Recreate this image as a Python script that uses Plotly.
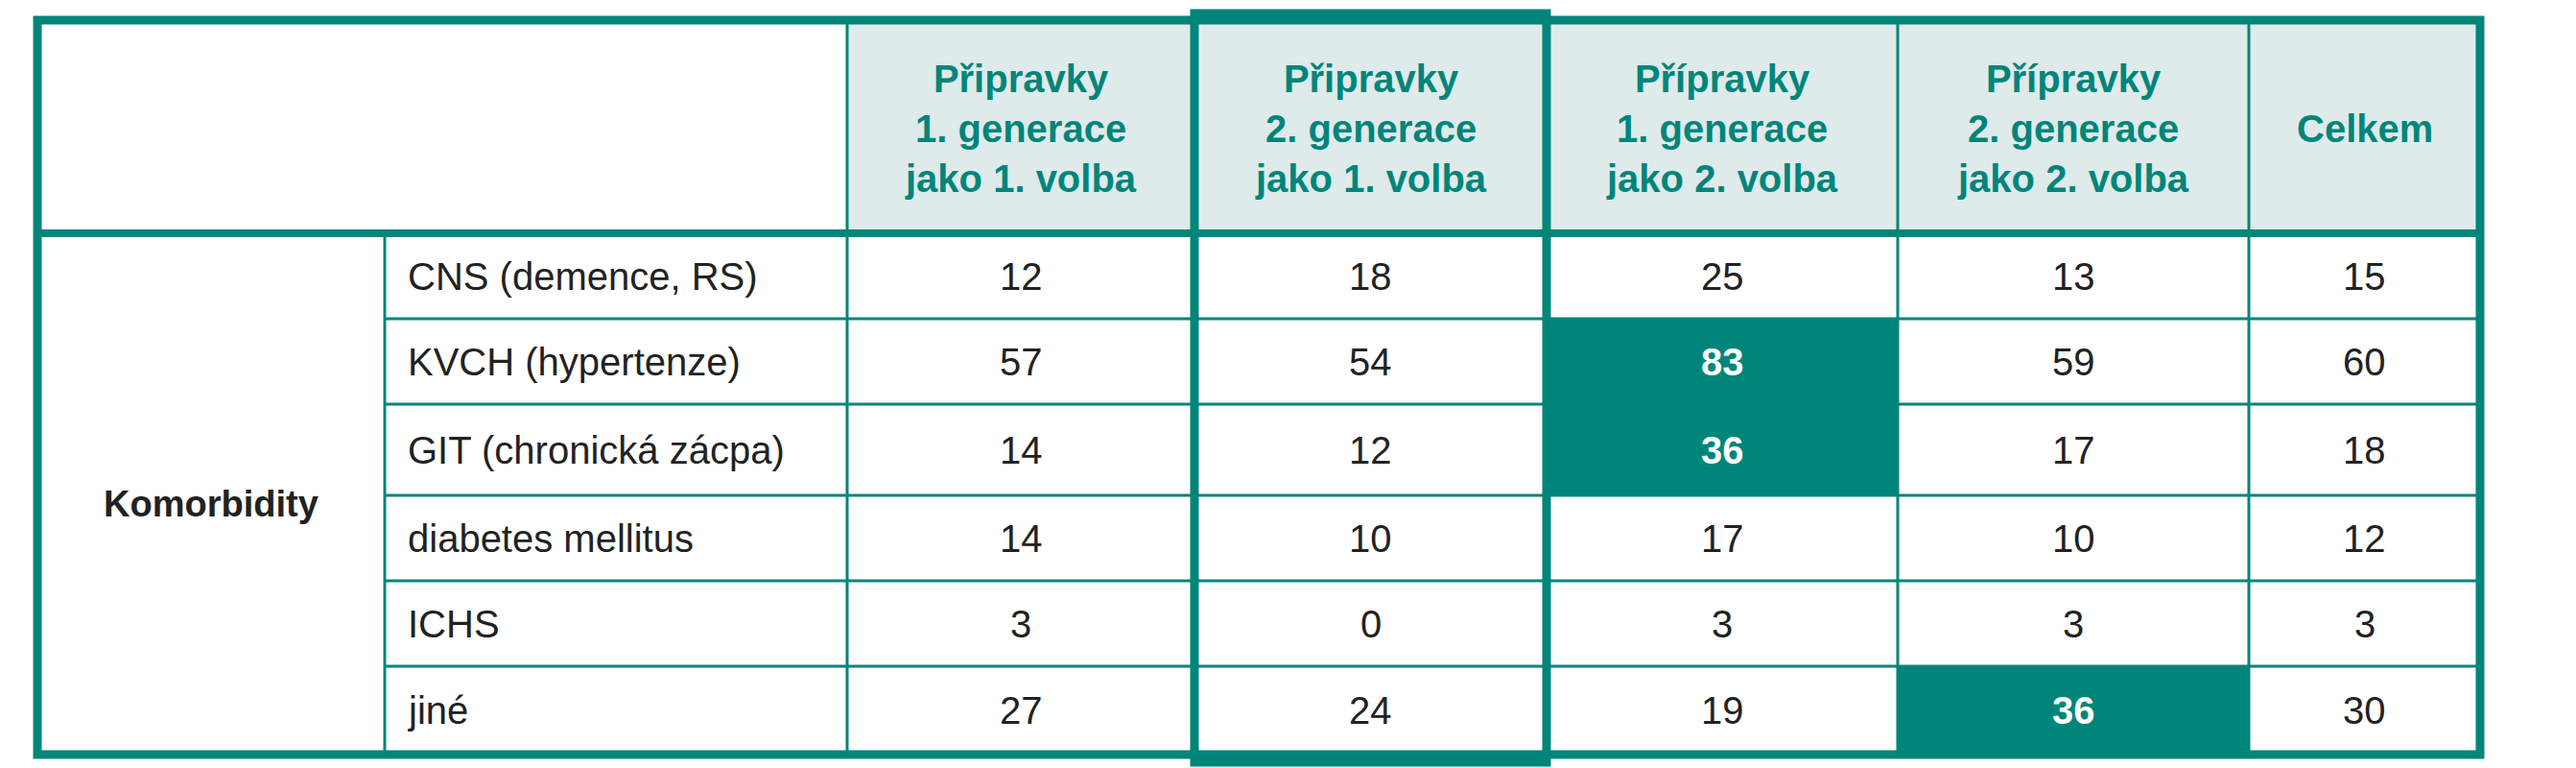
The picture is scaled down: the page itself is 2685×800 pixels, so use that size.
import plotly.graph_objects as go

group_label = "Komorbidity"
row_labels = ["CNS (demence, RS)", "KVCH (hypertenze)", "GIT (chronická zácpa)",
              "diabetes mellitus", "ICHS", "jiné"]
col_headers = ["Připravky<br>1. generace<br>jako 1. volba",
               "Připravky<br>2. generace<br>jako 1. volba",
               "Přípravky<br>1. generace<br>jako 2. volba",
               "Přípravky<br>2. generace<br>jako 2. volba",
               "Celkem"]
col1 = [12, 57, 14, 14, 3, 27]
col2 = [18, 54, 12, 10, 0, 24]
col3 = [25, 83, 36, 17, 3, 19]
col4 = [13, 59, 17, 10, 3, 36]
col5 = [15, 60, 18, 12, 3, 30]
highlighted = [(1, 2), (2, 2), (5, 3)]  # (row, column) cells shown emphasized

values = [col1, col2, col3, col4, col5]

TEAL = "#00857a"
HEAD_BG = "#dfeaea"
FONT = "Liberation Sans"

xe = [31, 393, 875, 1237, 1604, 1970, 2336, 2577]
ye = [13, 235, 324, 413, 508, 597, 686, 778]

shapes = []
ann = []

shapes.append(dict(type="rect", x0=xe[2], x1=xe[-1], y0=ye[0], y1=ye[1],
                   fillcolor=HEAD_BG, line_width=0, layer="below"))
for r, c in highlighted:
    shapes.append(dict(type="rect", x0=xe[c + 2], x1=xe[c + 3], y0=ye[r + 1], y1=ye[r + 2],
                       fillcolor=TEAL, line_width=0, layer="below"))
for y in ye[2:-1]:
    shapes.append(dict(type="line", x0=xe[1], x1=xe[-1], y0=y, y1=y, line=dict(color=TEAL, width=3)))
for x in xe[1:-1]:
    y0 = ye[0] if x >= xe[2] else ye[1]
    shapes.append(dict(type="line", x0=x, x1=x, y0=y0, y1=ye[-1], line=dict(color=TEAL, width=3)))
shapes.append(dict(type="line", x0=xe[0], x1=xe[-1], y0=ye[1], y1=ye[1], line=dict(color=TEAL, width=8)))
shapes.append(dict(type="rect", x0=xe[0], x1=xe[-1], y0=ye[0], y1=ye[-1], line=dict(color=TEAL, width=9)))
shapes.append(dict(type="rect", x0=xe[3], x1=xe[4], y0=6, y1=786, line=dict(color=TEAL, width=9)))

for i, h in enumerate(col_headers):
    ann.append(dict(x=(xe[i + 2] + xe[i + 3]) / 2, y=(ye[0] + ye[1]) / 2 + 2, text=h,
                    showarrow=False, font=dict(family=FONT, size=40, color=TEAL, weight="bold")))
ann.append(dict(x=(xe[0] + xe[1]) / 2, y=(ye[1] + ye[-1]) / 2 + 10, text=group_label, showarrow=False,
                font=dict(family=FONT, size=38, color="#222", weight="bold")))
for r, lab in enumerate(row_labels):
    yc = (ye[r + 1] + ye[r + 2]) / 2
    ann.append(dict(x=xe[1] + 22, y=yc, text=lab, showarrow=False, xanchor="left",
                    font=dict(family=FONT, size=40, color="#222")))
    for c in range(5):
        hl = (r, c) in highlighted
        ann.append(dict(x=(xe[c + 2] + xe[c + 3]) / 2, y=yc, text=str(values[c][r]), showarrow=False,
                        font=dict(family=FONT, size=40, color="white" if hl else "#222",
                                  weight="bold" if hl else "normal")))

fig = go.Figure()
fig.update_layout(width=2685, height=800, margin=dict(l=0, r=0, t=0, b=0),
                  paper_bgcolor="white", plot_bgcolor="white",
                  xaxis=dict(range=[0, 2685], visible=False),
                  yaxis=dict(range=[800, 0], visible=False),
                  shapes=shapes, annotations=ann, showlegend=False)
fig.write_html("out.html")
